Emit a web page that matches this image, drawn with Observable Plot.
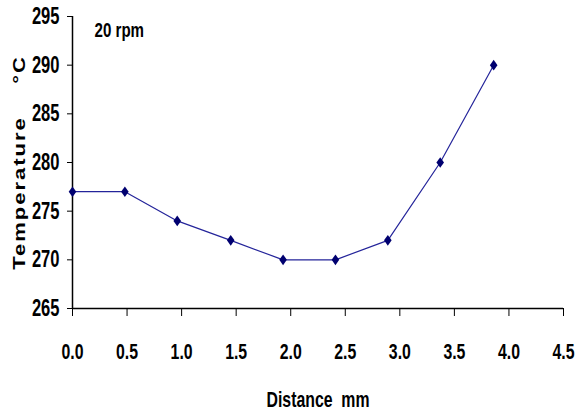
<!DOCTYPE html>
<html>
<head>
<meta charset="utf-8">
<script src="https://cdn.jsdelivr.net/npm/d3@7"></script>
<script src="https://cdn.jsdelivr.net/npm/@observablehq/plot@0.6"></script>
<style>
  body { margin: 0; background: #fff; }
  #chart svg { display: block; }
</style>
</head>
<body>
<div id="chart"></div>
<script>
const distance = [0, 0.48, 0.96, 1.45, 1.93, 2.41, 2.89, 3.37, 3.86];
const temperature = [277, 277, 274, 272, 270, 270, 272, 280, 290];
const xTicks = [0, 0.5, 1.0, 1.5, 2.0, 2.5, 3.0, 3.5, 4.0, 4.5];
const yTicks = [265, 270, 275, 280, 285, 290, 295];
const annotation = ["20 rpm"];
const xLabel = ["Distance  mm"];
const yLabel = ["Temperature    °C"];

const data = distance.map((d, i) => ({distance: d, temperature: temperature[i]}));

const font = "'Liberation Sans', Arial, sans-serif";

const tallDiamond = {
  draw(context, size) {
    const w = 3.8, h = 5.3;
    context.moveTo(0, -h);
    context.lineTo(w, 0);
    context.lineTo(0, h);
    context.lineTo(-w, 0);
    context.closePath();
  }
};

const chart = Plot.plot({
  width: 577,
  height: 414,
  marginLeft: 72,
  marginRight: 14,
  marginTop: 16,
  marginBottom: 106,
  style: {fontFamily: font, fontWeight: "bold", background: "#fff", color: "#000"},
  x: {domain: [0, 4.5]},
  y: {domain: [265, 295]},
  marks: [
    Plot.axisY({
      ticks: yTicks, tickSize: 5, tickPadding: 8, tickFormat: d => String(d),
      fontSize: 23, fontWeight: "bold", fontFamily: font,
      label: null
    }),
    Plot.axisX({
      ticks: xTicks, tickSize: 8, tickPadding: 27, tickFormat: d => d.toFixed(1),
      fontSize: 22, fontWeight: "bold", fontFamily: font,
      label: null
    }),
    Plot.ruleX([0], {stroke: "#000", strokeWidth: 1.5}),
    Plot.ruleY([265], {stroke: "#000", strokeWidth: 1.5}),
    Plot.line(data, {x: "distance", y: "temperature", stroke: "#24249a", strokeWidth: 1.2}),
    Plot.dot(data, {x: "distance", y: "temperature", symbol: tallDiamond, fill: "#000070", stroke: "none", r: 4}),
    Plot.text(annotation, {frameAnchor: "top-left", dx: 22, dy: 14, text: d => d, fontSize: 21, fontWeight: "bold", fontFamily: font, textAnchor: "start", lineAnchor: "middle"}),
    Plot.text(xLabel, {frameAnchor: "bottom", dy: 91, text: d => d, fontSize: 22, fontWeight: "bold", fontFamily: font, lineAnchor: "middle"}),
    Plot.text(yLabel, {frameAnchor: "left", dx: -53, rotate: -90, text: d => d, fontSize: 22, fontWeight: "bold", fontFamily: font, textAnchor: "middle", lineAnchor: "middle", className: "ylab"})
  ]
});

// Horizontally condensed lettering, as in the reference
const sx = 0.72;
d3.select(chart).selectAll("text").each(function() {
  const el = d3.select(this);
  const parentClass = (this.parentNode.getAttribute("class") || "") + " " + (el.attr("class") || "");
  const isYLab = parentClass.includes("ylab");
  let t = el.attr("transform") || "";
  const xa = el.attr("x");
  if (xa != null && /^-?[\d.]+$/.test(xa.trim())) {
    t += ` translate(${+xa},0)`;
    el.attr("x", null);
  }
  if (isYLab) {
    el.attr("transform", `${t} scale(1,${sx})`).style("letter-spacing", "2px");
  } else {
    el.attr("transform", `${t} scale(${sx},1)`);
  }
});

document.getElementById("chart").appendChild(chart);
</script>
</body>
</html>
